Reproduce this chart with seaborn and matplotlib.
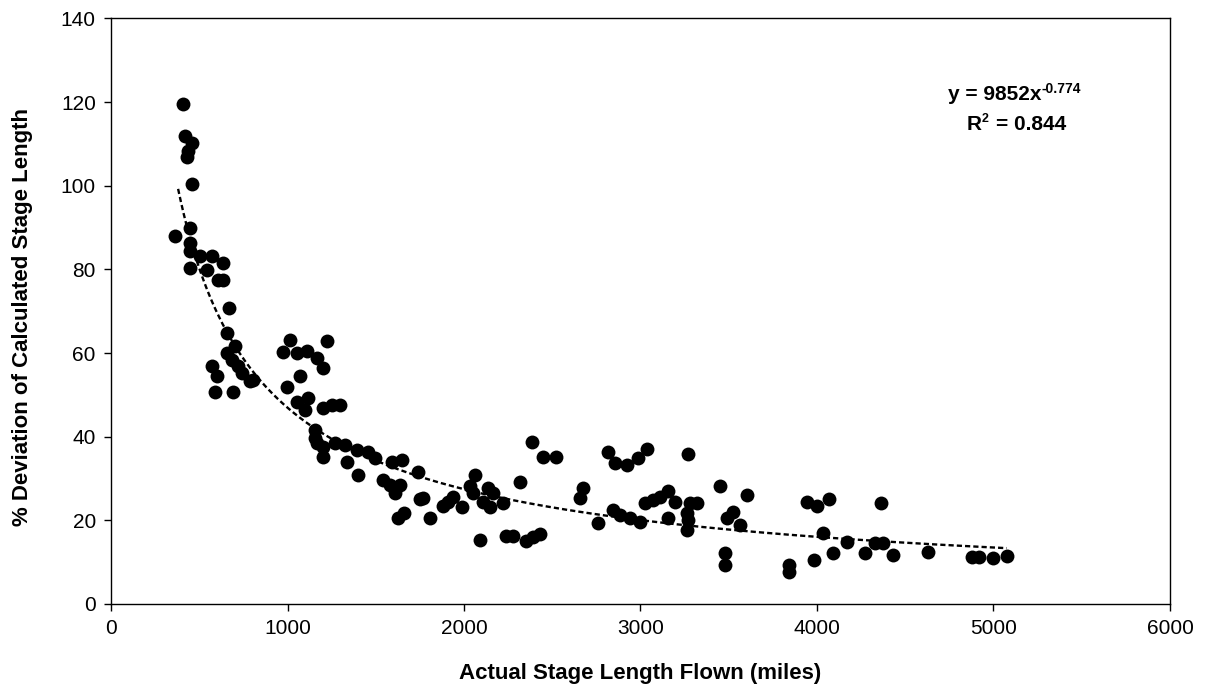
import numpy as np
import pandas as pd
import matplotlib
matplotlib.use("Agg")
import matplotlib.pyplot as plt
import seaborn as sns

# ---- data ----
stage_length = [
    363, 406, 419, 457, 438, 429, 457, 448, 448, 448, 504, 570, 636, 448, 543, 608, 636,
    670, 655, 703, 655, 684, 722, 570, 599, 741, 806, 589, 693, 788,
    975, 1014, 1052, 1109, 1165, 1203, 1222, 1071, 995, 1052, 1118, 1099, 1203, 1250, 1297,
    1156, 1156, 1165, 1203, 1269, 1326, 1203, 1392, 1458, 1496, 1335, 1590, 1647, 1401,
    1543, 1581, 1637, 1609, 1742, 1770, 1940,
    1625, 1660, 1810, 1880, 1910, 1750,
    2062, 2034, 2053, 2138, 2166, 2110, 2223, 2147, 1987, 2317, 2383, 2449, 2521,
    2818, 2856, 2922, 2988, 3035, 3271, 2672, 2657, 2762, 2846, 2884, 2941, 2997,
    3026, 3072, 3110, 3157, 3195, 3157, 3280, 3318, 3262, 3271, 3262, 3450, 3601,
    3526, 3488, 3563, 2240, 2280, 2350, 2390, 2430, 2090,
    3941, 3998, 4070, 4361, 4036, 4172, 3479, 3479, 3843, 3843, 3983, 4089, 4272,
    4329, 4376, 4433, 4631, 4880, 4920, 4999, 5075,
]
deviation = [
    88.0, 119.6, 111.9, 110.2, 108.2, 107.0, 100.5, 89.9, 86.3, 84.3, 83.1, 83.1, 81.5, 80.3, 79.9, 77.5, 77.5,
    70.7, 64.8, 61.6, 60.0, 58.4, 56.8, 56.8, 54.4, 55.2, 53.6, 50.8, 50.8, 53.2,
    60.2, 63.2, 60.0, 60.4, 58.8, 56.4, 62.8, 54.4, 52.0, 48.4, 49.2, 46.4, 46.8, 47.6, 47.6,
    41.6, 39.6, 38.4, 37.6, 38.4, 38.0, 35.2, 36.8, 36.4, 34.9, 34.0, 34.0, 34.4, 30.9,
    29.7, 28.5, 28.5, 26.5, 31.6, 25.3, 25.7,
    20.5, 21.8, 20.5, 23.5, 24.5, 25.0,
    30.9, 28.1, 26.5, 27.7, 26.5, 24.5, 24.1, 23.3, 23.3, 29.1, 38.8, 35.2, 35.2,
    36.4, 33.7, 33.3, 34.9, 37.0, 35.9, 27.7, 25.3, 19.3, 22.5, 21.3, 20.5, 19.7,
    24.1, 24.9, 25.7, 26.9, 24.5, 20.5, 24.1, 24.1, 21.7, 20.1, 17.7, 28.1, 26.1,
    22.1, 20.5, 18.9, 16.3, 16.3, 15.0, 16.0, 16.8, 15.3,
    24.5, 23.4, 25.0, 24.1, 16.9, 14.8, 12.1, 9.3, 9.3, 7.7, 10.5, 12.1, 12.1,
    14.5, 14.5, 11.7, 12.5, 11.2, 11.2, 10.9, 11.5,
]
fit_coef = 9852
fit_exp = -0.774
fit_r2 = 0.844

df = pd.DataFrame({"x": stage_length, "y": deviation})

sns.set_style("ticks")
plt.rcParams["font.family"] = ["Liberation Sans", "DejaVu Sans"]
plt.rcParams["text.color"] = "black"
plt.rcParams["axes.labelcolor"] = "black"

fig = plt.figure(figsize=(12.07, 6.98), dpi=100)
ax = fig.add_axes([0.092, 0.1347, 0.8773, 0.8388])

# trendline (power fit as printed in the chart)
xf = np.linspace(380, max(stage_length), 300)
trend = pd.DataFrame({"x": xf, "y": fit_coef * xf ** fit_exp})
sns.lineplot(data=trend, x="x", y="y", ax=ax, color="black", lw=1.7,
             linestyle=(0, (2.2, 1.3)), zorder=3)

sns.scatterplot(data=df, x="x", y="y", ax=ax, color="black", s=100,
                edgecolor="black", linewidth=0, zorder=4)

ax.set_xlim(0, 6000)
ax.set_ylim(0, 140)
ax.set_xticks(np.arange(0, 6001, 1000))
ax.set_yticks(np.arange(0, 141, 20))
ax.tick_params(axis="both", direction="out", length=5, width=1, labelsize=15,
               colors="black", pad=6)
for sp in ax.spines.values():
    sp.set_color("black")
    sp.set_linewidth(1.0)

ax.set_xlabel("Actual Stage Length Flown (miles)", fontsize=16, fontweight="bold",
              va="center")
ax.xaxis.set_label_coords(0.5, -0.118)
ax.set_ylabel("% Deviation of Calculated Stage Length", fontsize=16, fontweight="bold",
              va="center")
ax.yaxis.set_label_coords(-0.084, 0.49)

t1 = ax.text(5010, 121.8, "y = %dx" % fit_coef, ha="center", va="center",
             fontsize=15, fontweight="bold")
ax.annotate("%.3f" % fit_exp, xy=(1.0, 0.8), xycoords=t1, ha="left", va="center",
            fontsize=10, fontweight="bold")
tR = ax.text(4935, 114.6, "R", ha="right", va="center", fontsize=15, fontweight="bold")
ax.annotate("2", xy=(1.0, 0.78), xycoords=tR, ha="left", va="center",
            fontsize=9, fontweight="bold")
ax.text(5015, 114.6, "= %.3f" % fit_r2, ha="left", va="center", fontsize=15,
        fontweight="bold")

fig.savefig("out.png", dpi=100)
